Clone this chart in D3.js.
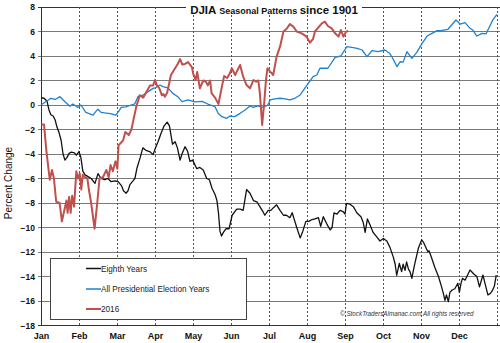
<!DOCTYPE html>
<html><head><meta charset="utf-8">
<script src="https://cdn.jsdelivr.net/npm/d3@7"></script>
<style>body{margin:0;background:#fff}svg{display:block}</style>
</head><body>
<svg id="c" width="500" height="343"></svg>
<script>
const monthLabels = ["Jan","Feb","Mar","Apr","May","Jun","Jul","Aug","Sep","Oct","Nov","Dec"];
const yTickValues = [-18,-16,-14,-12,-10,-8,-6,-4,-2,0,2,4,6,8];
const seriesNames = ["Eighth Years","All Presidential Election Years","2016"];

// time in months since Jan 1
const eighthT = [0,0.08,0.16,0.21,0.26,0.32,0.37,0.42,0.47,0.53,0.58,0.63,0.68,0.74,0.8,0.88,0.93,1.0,1.05,1.1,1.16,1.24,1.32,1.42,1.5,1.58,1.68,1.76,1.84,1.95,2.03,2.12,2.17,2.24,2.29,2.34,2.42,2.47,2.53,2.61,2.68,2.76,2.86,2.95,3.0,3.08,3.16,3.24,3.32,3.38,3.46,3.53,3.59,3.66,3.71,3.79,3.86,3.92,3.99,4.1,4.18,4.27,4.36,4.43,4.5,4.58,4.63,4.67,4.71,4.75,4.8,4.87,4.95,5.03,5.15,5.24,5.32,5.41,5.5,5.59,5.68,5.76,5.84,5.89,5.98,6.05,6.11,6.2,6.29,6.38,6.46,6.55,6.61,6.66,6.73,6.82,6.89,6.97,7.05,7.13,7.21,7.3,7.36,7.43,7.52,7.61,7.66,7.71,7.79,7.87,7.95,8.0,8.04,8.13,8.22,8.31,8.42,8.48,8.53,8.59,8.66,8.74,8.83,8.92,9.01,9.1,9.18,9.27,9.32,9.36,9.43,9.49,9.53,9.58,9.62,9.67,9.71,9.76,9.8,9.84,9.93,10.02,10.08,10.18,10.21,10.26,10.37,10.46,10.54,10.59,10.63,10.67,10.72,10.76,10.82,10.89,10.97,11.01,11.05,11.09,11.16,11.29,11.39,11.47,11.54,11.63,11.68,11.76,11.82,11.87,11.93,11.98];
const eighthV = [0.6,0.55,0.3,-0.4,-0.8,-0.9,-1.2,-1.8,-2.2,-2.9,-4.0,-4.5,-4.3,-3.95,-3.85,-3.9,-4.1,-3.8,-4.3,-5.4,-5.7,-5.85,-6.0,-6.4,-5.6,-6.0,-6.1,-6.0,-6.25,-6.2,-6.25,-6.6,-7.0,-7.2,-7.0,-6.5,-6.2,-6.0,-5.1,-4.3,-3.5,-3.7,-3.8,-4.05,-3.6,-3.0,-2.3,-1.7,-1.4,-1.7,-3.2,-3.0,-3.5,-4.5,-4.0,-3.4,-3.8,-4.6,-4.5,-5.2,-5.1,-5.3,-6.0,-6.1,-6.8,-7.3,-7.8,-8.8,-10.3,-10.7,-10.4,-10.1,-10.1,-9.0,-8.5,-8.5,-8.6,-6.9,-7.2,-7.8,-7.9,-8.3,-8.7,-9.0,-8.6,-8.6,-8.4,-8.15,-8.6,-9.0,-9.0,-9.2,-8.8,-9.3,-10.0,-10.85,-10.3,-9.5,-9.5,-9.35,-9.3,-9.2,-9.9,-9.12,-9.7,-10.2,-10.0,-8.8,-8.9,-8.6,-8.7,-8.9,-8.03,-8.1,-8.3,-8.8,-9.12,-9.6,-10.4,-9.3,-9.8,-10.4,-10.75,-11.1,-10.9,-11.1,-11.6,-12.4,-13.0,-13.9,-12.93,-13.6,-13.0,-13.5,-12.8,-13.4,-13.6,-14.15,-13.5,-12.9,-11.7,-11.0,-11.3,-11.98,-11.9,-12.3,-13.3,-14.0,-14.83,-15.4,-15.95,-15.5,-16.06,-15.3,-15.1,-15.0,-14.55,-15.3,-14.6,-14.15,-14.3,-13.47,-13.8,-14.0,-14.85,-13.88,-14.5,-15.5,-15.4,-15.2,-14.8,-13.88];

const electionT = [0,0.26,0.37,0.5,0.63,0.76,0.84,0.97,1.05,1.18,1.37,1.45,1.5,1.58,1.68,1.82,1.97,2.05,2.11,2.24,2.37,2.47,2.55,2.68,2.82,2.95,3.0,3.13,3.21,3.34,3.47,3.6,3.71,3.87,4.05,4.24,4.39,4.58,4.66,4.76,4.89,4.97,5.1,5.24,5.37,5.5,5.58,5.71,5.84,5.97,6.03,6.16,6.29,6.42,6.55,6.68,6.82,7.0,7.16,7.26,7.34,7.55,7.74,7.89,8.05,8.18,8.32,8.45,8.58,8.71,8.87,9.05,9.18,9.24,9.37,9.45,9.53,9.63,9.76,9.89,10.03,10.16,10.29,10.42,10.55,10.71,10.92,11.03,11.16,11.29,11.37,11.47,11.61,11.71,11.76,11.89,12.0];
const electionV = [0,0.55,0.45,0.68,0.27,-0.1,0.08,-0.2,0.0,-0.6,-0.82,-0.5,-0.35,-0.6,-0.65,-0.7,-0.82,-0.5,-0.2,-0.15,0.0,0.1,0.68,0.8,1.09,1.36,1.4,1.63,1.5,1.4,0.95,0.68,0.27,0.41,0.25,0.3,0.08,-0.14,-0.68,-0.95,-1.09,-0.9,-0.95,-0.68,-0.41,-0.08,-0.2,-0.08,-0.19,0.0,0.41,0.5,0.55,0.5,0.41,0.55,0.82,1.63,2.31,2.45,3.0,3.0,3.89,4.0,4.76,4.7,4.63,4.49,3.95,4.43,4.35,4.49,4.2,3.9,3.13,3.53,3.5,4.35,3.81,4.3,5.03,5.63,5.85,6.07,6.1,6.18,6.94,6.61,6.72,6.26,6.1,5.63,5.85,5.8,6.12,6.94,7.4];

const y2016T = [0.01,0.08,0.14,0.23,0.29,0.34,0.4,0.49,0.55,0.6,0.67,0.7,0.74,0.78,0.82,0.87,0.93,0.97,1.02,1.06,1.1,1.16,1.22,1.26,1.32,1.41,1.48,1.54,1.63,1.72,1.78,1.83,1.89,1.96,2.01,2.04,2.16,2.22,2.31,2.38,2.42,2.51,2.6,2.69,2.78,2.87,2.95,3.0,3.05,3.11,3.18,3.22,3.26,3.32,3.42,3.5,3.59,3.66,3.72,3.79,3.87,3.97,4.01,4.07,4.11,4.18,4.27,4.34,4.39,4.45,4.49,4.58,4.67,4.76,4.82,4.9,4.97,5.02,5.11,5.15,5.24,5.32,5.41,5.5,5.59,5.66,5.72,5.76,5.82,5.88,5.92,5.96,6.03,6.07,6.11,6.2,6.29,6.38,6.46,6.55,6.64,6.73,6.86,6.99,7.08,7.16,7.21,7.29,7.39,7.47,7.55,7.65,7.74,7.83,7.89,7.96,8.02,8.08];
const y2016V = [-1.6,-1.6,-3.7,-6.1,-5.3,-6.0,-7.9,-8.0,-9.5,-8.8,-7.8,-8.8,-7.5,-8.8,-7.4,-8.3,-5.4,-6.0,-5.6,-6.9,-5.7,-5.9,-6.0,-6.9,-8.0,-10.1,-8.0,-6.0,-5.9,-5.3,-5.9,-4.9,-5.4,-4.6,-5.2,-3.3,-2.9,-2.2,-2.45,-2.0,-1.4,-0.1,0.8,0.6,1.1,1.6,1.6,2.04,1.6,1.4,0.8,0.9,0.68,1.0,2.45,2.86,3.3,3.75,3.3,3.35,3.5,3.1,2.5,2.04,2.7,1.36,2.0,1.9,1.6,2.0,0.95,0.6,0.08,1.5,2.37,2.2,2.59,3.0,2.45,2.72,3.27,2.31,1.63,1.36,2.04,1.9,2.0,0.95,-1.63,0.4,2.04,3.0,2.72,2.6,2.45,3.95,4.76,6.0,6.2,6.6,6.4,6.0,5.85,5.58,5.09,5.4,6.0,6.3,6.67,6.8,6.45,6.26,5.85,5.58,6.12,5.58,5.95,6.07];

const colors = {eighth:"#111111", election:"#1e82d2", y2016:"#c0504d"};

const svg = d3.select("#c");
const x = d3.scaleLinear().domain([0,12]).range([41,497]);
const y = d3.scaleLinear().domain([-18,8]).range([325.5,7]);

// horizontal grid
svg.append("g").selectAll("line").data(yTickValues).join("line")
  .attr("x1", 38).attr("x2", 500)
  .attr("y1", d=>y(d)).attr("y2", d=>y(d))
  .attr("stroke", d => d===8 || d===-18 ? "#333" : "#7a7a7a")
  .attr("stroke-width", 1).attr("shape-rendering","crispEdges");

// vertical dashed month lines
svg.append("g").selectAll("line").data(d3.range(1,13)).join("line")
  .attr("x1", d=>x(d)).attr("x2", d=>x(d))
  .attr("y1", y(8)).attr("y2", y(-18))
  .attr("stroke", "#555").attr("stroke-dasharray","2,2").attr("stroke-width",1)
  .attr("shape-rendering","crispEdges");

// y axis
const yAxis = d3.axisLeft(y).tickValues(yTickValues).tickSize(0).tickPadding(6)
  .tickFormat(d => d<0 ? "\u2212"+Math.abs(d) : d);
const ya = svg.append("g").attr("transform","translate(41,0)").call(yAxis);
ya.select(".domain").attr("stroke","#333").attr("shape-rendering","crispEdges");
ya.selectAll("text").attr("font-family","Liberation Sans, Arial, sans-serif")
  .attr("font-size", 8.5).attr("font-weight","bold").attr("fill","#111");

// x axis labels
const xAxis = d3.axisBottom(x).tickValues(d3.range(0,12)).tickSize(0).tickPadding(7)
  .tickFormat(i => monthLabels[i]);
const xa = svg.append("g").attr("transform",`translate(0,${y(-18)})`).call(xAxis);
xa.select(".domain").remove();
xa.selectAll("text").attr("font-family","Liberation Sans, Arial, sans-serif")
  .attr("font-size", 9).attr("font-weight","bold").attr("fill","#111");

// y label
svg.append("text").attr("transform","translate(11.5,183) rotate(-90)")
  .attr("text-anchor","middle").attr("font-family","Liberation Sans, Arial, sans-serif")
  .attr("font-size",10).attr("fill","#111").text("Percent Change");

// lines
function series(T, V){ return T.map((t,i)=>[t,V[i]]); }
const line = d3.line().x(d=>x(d[0])).y(d=>y(d[1]));
svg.append("path").datum(series(eighthT,eighthV)).attr("d",line)
  .attr("fill","none").attr("stroke",colors.eighth).attr("stroke-width",1.3).attr("stroke-linejoin","round");
svg.append("path").datum(series(electionT,electionV)).attr("d",line)
  .attr("fill","none").attr("stroke",colors.election).attr("stroke-width",1.3).attr("stroke-linejoin","round");
svg.append("path").datum(series(y2016T,y2016V)).attr("d",line)
  .attr("fill","none").attr("stroke",colors.y2016).attr("stroke-width",2).attr("stroke-linejoin","round");

// title
svg.append("rect").attr("x",186).attr("y",0).attr("width",176).attr("height",14).attr("fill","#fff");
const title = svg.append("text").attr("x",274).attr("y",14).attr("text-anchor","middle")
  .attr("font-family","Liberation Sans, Arial, sans-serif").attr("font-weight","bold").attr("fill","#111");
title.append("tspan").attr("font-size",11.5).text("DJIA ");
title.append("tspan").attr("font-size",9).text("Seasonal Patterns ");
title.append("tspan").attr("font-size",11.5).text("since 1901");

// legend
const lg = svg.append("g");
lg.append("rect").attr("x",50.5).attr("y",258.5).attr("width",196).attr("height",61)
  .attr("fill","#fff").attr("stroke","#444").attr("stroke-width",1);
const legendColors = [colors.eighth, colors.election, colors.y2016];
const rowY = [268.5, 289, 309];
seriesNames.forEach((n,i)=>{
  lg.append("line").attr("x1",86).attr("x2",101).attr("y1",rowY[i]).attr("y2",rowY[i])
    .attr("stroke",legendColors[i]).attr("stroke-width", i===2?2:1.5);
  lg.append("text").attr("x",101).attr("y",rowY[i]+3).attr("font-family","Liberation Sans, Arial, sans-serif")
    .attr("font-size",8.2).attr("fill","#222").text(n);
});

// copyright
svg.append("text").attr("x",340).attr("y",315.5).attr("font-family","Liberation Sans, Arial, sans-serif")
  .attr("font-size",6.3).attr("font-style","italic").attr("fill","#333")
  .text("\u00A9 StockTradersAlmanac.com All rights reserved");
</script>
</body></html>
